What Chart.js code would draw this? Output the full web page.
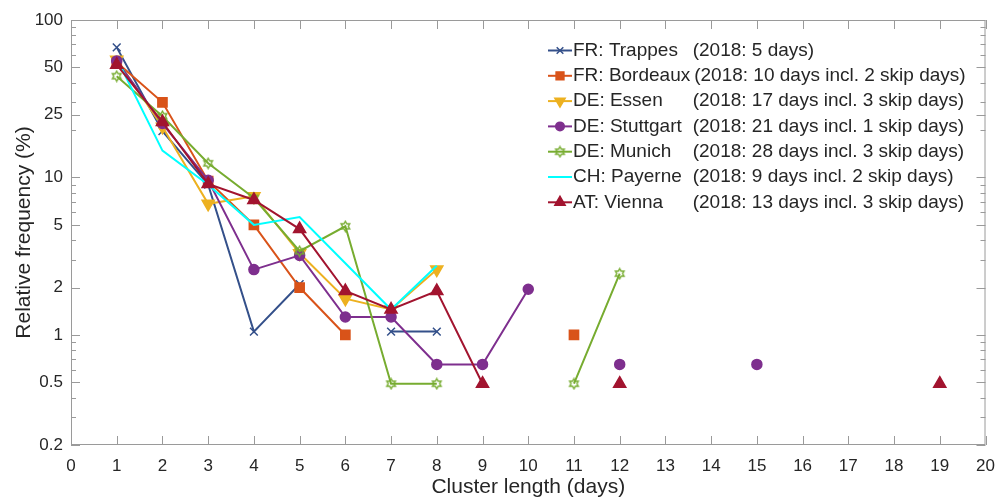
<!DOCTYPE html>
<html>
<head>
<meta charset="utf-8">
<script src="https://cdn.jsdelivr.net/npm/chart.js@4"></script>
<style>
html,body{margin:0;padding:0;background:#fff;}
#wrap{width:998px;height:500px;position:relative;}
</style>
</head>
<body>
<div id="wrap"><canvas id="clusterChart"></canvas></div>
<script>
// cluster length (days) on the x axis, relative frequency (%) per station
const clusterDays = [1,2,3,4,5,6,7,8,9,10,11,12,13,14,15,16,17,18,19];
const trappes   = [67, 19.7, 9, 1.05, 2.1, null, 1.05, 1.05];
const bordeaux  = [54, 30, 9.5, 5, 2, 1, null, null, null, null, 1];
const essen     = [56, 21, 6.8, 7.6, 3.3, 1.7, 1.45, 2.6];
const stuttgart = [55, 22, 9.6, 2.6, 3.2, 1.3, 1.3, 0.65, 0.65, 1.95, null, 0.65, null, null, 0.65];
const munich    = [44, 24.5, 12.3, 7.4, 3.4, 4.9, 0.49, 0.49, null, null, 0.49, 2.45];
const payerne   = [57, 14.8, 9, 5, 5.6, 2.85, 1.45, 2.75];
const vienna    = [52, 22.5, 9.1, 7.2, 4.7, 1.9, 1.45, 1.9, 0.49, null, null, 0.49, null, null, null, null, null, null, 0.49];

const stationNames = ["FR: Trappes", "FR: Bordeaux", "DE: Essen", "DE: Stuttgart", "DE: Munich", "CH: Payerne", "AT: Vienna"];
const stationNotes = ["(2018: 5 days)", "(2018: 10 days incl. 2 skip days)", "(2018: 17 days incl. 3 skip days)",
  "(2018: 21 days incl. 1 skip days)", "(2018: 28 days incl. 3 skip days)", "(2018: 9 days incl. 2 skip days)",
  "(2018: 13 days incl. 3 skip days)"];
const yTicks = [0.2, 0.5, 1, 2, 5, 10, 25, 50, 100];
const xTicks = [0,1,2,3,4,5,6,7,8,9,10,11,12,13,14,15,16,17,18,19,20];

const FONT = '"Liberation Sans", Arial, sans-serif';
const TEXT = "#262626";
const AXIS = "#9a9a9a";

function hexagram(color) {
  const c = document.createElement("canvas");
  c.width = c.height = 13;
  const g = c.getContext("2d");
  g.strokeStyle = color;
  g.lineWidth = 1.4;
  g.beginPath();
  for (let k = 0; k < 12; k++) {
    const r = k % 2 ? 2.9 : 5;
    const a = -Math.PI / 2 + k * Math.PI / 6;
    const px = 6.5 + r * Math.cos(a), py = 6.5 + r * Math.sin(a);
    k ? g.lineTo(px, py) : g.moveTo(px, py);
  }
  g.closePath();
  g.stroke();
  return c;
}

const styles = [
  {color:"#34508a", pointStyle:"crossRot", radius:5.5, rotation:0, fill:false},
  {color:"#d95319", pointStyle:"rect", radius:6.5, rotation:0, fill:true},
  {color:"#edb120", pointStyle:"triangle", radius:7, rotation:180, fill:true},
  {color:"#7e2f8e", pointStyle:"circle", radius:5, rotation:0, fill:true},
  {color:"#77ac30", pointStyle:hexagram("#77ac30"), radius:5, rotation:0, fill:false},
  {color:"#00ffff", pointStyle:"circle", radius:0, rotation:0, fill:false},
  {color:"#a2142f", pointStyle:"triangle", radius:7, rotation:0, fill:true}
];

const series = [trappes, bordeaux, essen, stuttgart, munich, payerne, vienna];
const toPoints = vals => vals.map((v, i) => ({x: clusterDays[i], y: v}));

const datasets = series.map((vals, i) => ({
  label: stationNames[i],
  data: toPoints(vals),
  borderColor: styles[i].color,
  backgroundColor: styles[i].fill ? styles[i].color : "rgba(0,0,0,0)",
  pointBorderColor: styles[i].color,
  pointBackgroundColor: styles[i].fill ? styles[i].color : "rgba(0,0,0,0)",
  pointStyle: styles[i].pointStyle,
  pointRadius: styles[i].radius,
  pointRotation: styles[i].rotation,
  pointBorderWidth: 1.5,
  borderWidth: 2,
  spanGaps: false,
  tension: 0,
  order: series.length - i
}));

// frame box with inward ticks, MATLAB style
const frame = {
  id: "frame",
  beforeDatasetsDraw(chart) {
    const {ctx, chartArea: a, scales: {x, y}} = chart;
    ctx.save();
    ctx.strokeStyle = AXIS;
    ctx.lineWidth = 1;
    ctx.strokeRect(a.left + 0.5, a.top + 0.5, a.right - a.left - 1, a.bottom - a.top - 1);
    ctx.beginPath();
    xTicks.forEach(v => {
      const px = Math.round(x.getPixelForValue(v)) + 0.5;
      ctx.moveTo(px, a.bottom); ctx.lineTo(px, a.bottom - 9);
      ctx.moveTo(px, a.top); ctx.lineTo(px, a.top + 9);
    });
    const yMarks = [];
    for (let d = -1; d <= 2; d++) {
      for (let m = 1; m <= 9; m++) yMarks.push(m * Math.pow(10, d));
    }
    yMarks.concat([25]).forEach(v => {
      if (v < 0.2 || v > 100) return;
      const len = yTicks.includes(v) ? 9 : 5;
      const py = Math.round(y.getPixelForValue(v)) + 0.5;
      ctx.moveTo(a.left, py); ctx.lineTo(a.left + len, py);
      ctx.moveTo(a.right, py); ctx.lineTo(a.right - len, py);
    });
    ctx.stroke();
    ctx.restore();
  }
};

// legend with line + marker samples, placed inside the plot area top right
const legendBox = {
  id: "legendBox",
  afterDraw(chart) {
    const {ctx, chartArea: a} = chart;
    const x0 = a.right - 437.5, y0 = 50.5, step = 25.3;
    ctx.save();
    ctx.font = "19px " + FONT;
    ctx.textBaseline = "middle";
    const nameCol = Math.max(...stationNames.map(n => ctx.measureText(n).width)) + 4;
    chart.data.datasets.forEach((ds, i) => {
      const yy = y0 + i * step;
      const s = styles[i];
      ctx.strokeStyle = s.color;
      ctx.lineWidth = 2;
      ctx.beginPath();
      ctx.moveTo(x0, yy); ctx.lineTo(x0 + 24, yy);
      ctx.stroke();
      if (s.radius > 0) {
        ctx.fillStyle = s.fill ? s.color : "rgba(0,0,0,0)";
        ctx.lineWidth = 1.5;
        Chart.helpers.drawPoint(ctx, {pointStyle: s.pointStyle, radius: s.radius * 0.85, rotation: s.rotation, borderWidth: 1.5}, x0 + 12, yy);
      }
      ctx.fillStyle = TEXT;
      ctx.textAlign = "left";
      ctx.fillText(stationNames[i], x0 + 25, yy);
      ctx.fillText(stationNotes[i], x0 + 25 + nameCol - (i === 1 ? 0 : 1.5), yy);
    });
    ctx.restore();
  }
};

Chart.defaults.font.family = FONT;
Chart.defaults.color = TEXT;

new Chart(document.getElementById("clusterChart"), {
  type: "line",
  data: {datasets},
  options: {
    responsive: true,
    maintainAspectRatio: false,
    animation: false,
    events: [],
    layout: {padding: {left: 0, right: 12.5, top: 20, bottom: 0}},
    plugins: {legend: {display: false}, tooltip: {enabled: false}},
    scales: {
      x: {
        type: "linear", min: 0, max: 20,
        grid: {display: false, drawTicks: false},
        border: {display: false},
        afterBuildTicks: s => { s.ticks = xTicks.map(v => ({value: v})); },
        afterFit: s => { s.height = 55; s.paddingLeft = 0; s.paddingRight = 0; },
        ticks: {font: {size: 17}, color: TEXT, padding: 11, maxRotation: 0, autoSkip: false},
        title: {display: true, text: "Cluster length (days)", font: {size: 21}, color: TEXT, padding: {top: 0, bottom: 0}}
      },
      y: {
        type: "logarithmic", min: 0.2, max: 100,
        grid: {display: false, drawTicks: false},
        border: {display: false},
        afterBuildTicks: s => { s.ticks = yTicks.map(v => ({value: v})); },
        afterFit: s => { s.width = 71; s.paddingTop = 0; s.paddingBottom = 0; },
        ticks: {font: {size: 17}, color: TEXT, padding: 8, autoSkip: false, callback: v => String(v)},
        title: {display: true, text: "Relative frequency (%)", font: {size: 21}, color: TEXT, padding: {top: 12, bottom: 0}}
      }
    }
  },
  plugins: [frame, legendBox]
});
</script>
</body>
</html>
